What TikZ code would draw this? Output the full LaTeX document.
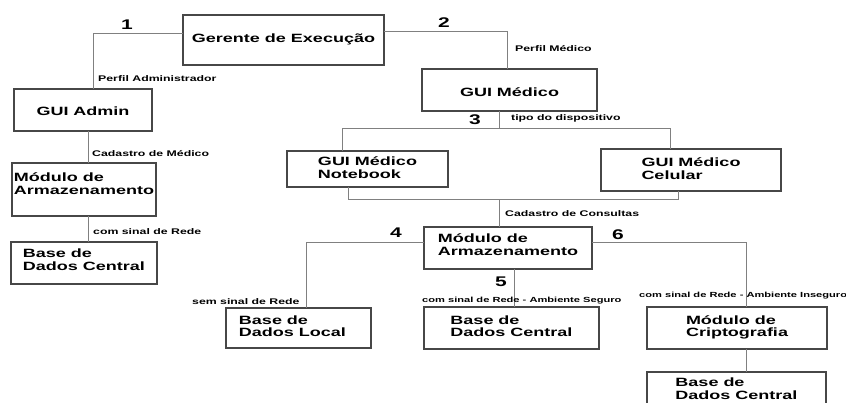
\documentclass[tikz,border=0pt]{standalone}
\usepackage{fontspec}
\setmainfont{Liberation Sans}[FakeStretch=1.5]
\begin{document}
\begin{tikzpicture}[x=1pt,y=-1pt,
  bx/.style={draw=black!72, line width=1.2pt, fill=white, inner sep=0pt, outer sep=0pt,
    align=left, font=\fontsize{12}{13}\selectfont\bfseries, text depth=0pt},
  conn/.style={draw=black!50, line width=1pt},
  lab/.style={anchor=base west, inner sep=0pt, font=\fontsize{8.2}{9}\selectfont\bfseries},
  lablong/.style={lab, font=\fontsize{7.4}{9}\selectfont\bfseries},
  num/.style={anchor=base west, inner sep=0pt, font=\fontsize{14}{14}\selectfont\bfseries}]
\useasboundingbox (0,0) rectangle (846,403);
\clip (0,0) rectangle (846,403);
\fill[white] (0,0) rectangle (846,403);

% boxes
\node[bx, minimum width=201pt, minimum height=50pt, text height=6pt] (gerente) at (283.5,40) {Gerente de Execução};
\node[bx, minimum width=138pt, minimum height=42pt, text height=12pt] (admin) at (83,110) {GUI Admin};
\node[bx, minimum width=175pt, minimum height=42pt, text height=14pt] (medico) at (509.5,90) {GUI Médico};
\node[bx, minimum width=161pt, minimum height=36pt, text height=20pt] (notebook) at (367.5,169) {GUI Médico\\Notebook};
\node[bx, minimum width=180pt, minimum height=42pt, text height=20pt] (celular) at (691,170) {GUI Médico\\Celular};
\node[bx, minimum width=144pt, minimum height=53pt, text height=11pt] (modl) at (84,189.5) {Módulo de\\Armazenamento};
\node[bx, minimum width=146pt, minimum height=42pt, text height=16pt] (basel) at (84,263) {Base de\\Dados Central};
\node[bx, minimum width=168pt, minimum height=42pt, text height=16pt] (modm) at (508,248) {Módulo de\\Armazenamento};
\node[bx, minimum width=145pt, minimum height=40pt, text height=18pt] (basloc) at (298.5,328) {Base de\\Dados Local\hspace*{12pt}};
\node[bx, minimum width=175pt, minimum height=42pt, text height=18pt] (bascm) at (511.5,328) {Base de\\Dados Central};
\node[bx, minimum width=180pt, minimum height=42pt, text height=18pt] (cripto) at (737,328) {Módulo de\\Criptografia};
\node[bx, minimum width=179pt, minimum height=42pt, text height=12pt] (basbr) at (736.5,393) {Base de\\Dados Central};

% bus coordinates
\coordinate (b3) at (499,129);
\coordinate (b4) at (499,200);

% connectors
\draw[conn] ([yshift=6pt]gerente.west) -| ([xshift=10pt]admin.north);
\draw[conn] ([yshift=8pt]gerente.east) -| ([xshift=-2.5pt]medico.north);
\draw[conn] (b3 |- medico.south) -- (b3);
\draw[conn] (b3) -| ([xshift=-25pt]notebook.north);
\draw[conn] (b3) -| ([xshift=-21pt]celular.north);
\draw[conn] (b4) -| ([xshift=-19.5pt]notebook.south);
\draw[conn] (b4) -| ([xshift=-13pt]celular.south);
\draw[conn] (b4) -- (b4 |- modm.north);
\draw[conn] ([xshift=5pt]admin.south) -- ([xshift=4pt]modl.north);
\draw[conn] ([xshift=4pt]modl.south) -- ([xshift=4pt]basel.north);
\draw[conn] ([yshift=5pt]modm.west) -| ([xshift=7.5pt]basloc.north);
\draw[conn] ([xshift=6pt]modm.south) -- ([xshift=2.5pt]bascm.north);
\draw[conn] ([yshift=5pt]modm.east) -| ([xshift=9pt]cripto.north);
\draw[conn] ([xshift=9pt]cripto.south) -- ([xshift=9.5pt]basbr.north);

% numbers
\node[num] (n1) at (121,30) {1};
\node[num] (n2) at (438,28) {2};
\node[num] (n3) at (469,125) {3};
\node[num] (n4) at (390,238) {4};
\node[num] (n5) at (495,287) {5};
\node[num] (n6) at (612,240) {6};

% labels
\node[lab] (l1) at (98,82) {Perfil Administrador};
\node[lab] (l2) at (515,52) {Perfil Médico};
\node[lab] (l3) at (511,121) {tipo do dispositivo};
\node[lab] (l4) at (92,157) {Cadastro de Médico};
\node[lab] (l5) at (93,235) {com sinal de Rede};
\node[lab] (l6) at (505,217) {Cadastro de Consultas};
\node[lab] (l7) at (192,305) {sem sinal de Rede};
\node[lablong] (l8) at (422,303) {com sinal de Rede - Ambiente Seguro};
\node[lablong] (l9) at (639,298) {com sinal de Rede - Ambiente Inseguro};
\end{tikzpicture}
\end{document}
